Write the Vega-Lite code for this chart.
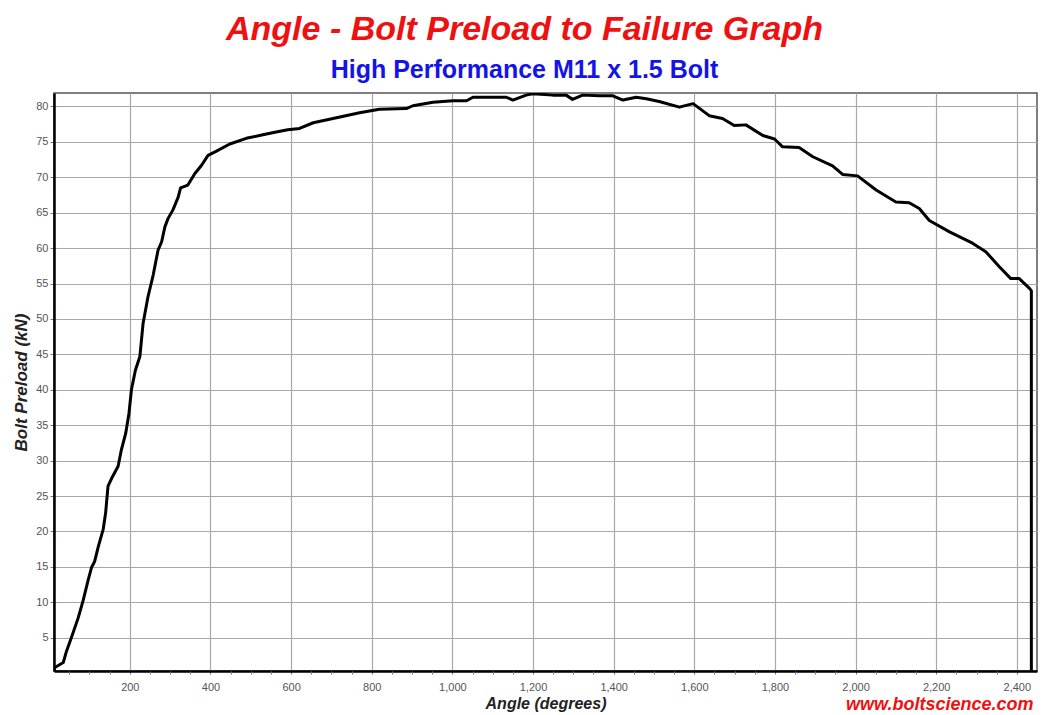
{
  "$schema": "https://vega.github.io/schema/vega-lite/v6.json",
  "width": 983,
  "height": 578,
  "autosize": {"type": "none"},
  "padding": {"left": 54, "top": 93, "right": 16, "bottom": 44},
  "background": "white",
  "title": {
    "text": "Angle - Bolt Preload to Failure Graph",
    "subtitle": "High Performance M11 x 1.5 Bolt",
    "anchor": "middle",
    "dx": -21,
    "offset": 10,
    "subtitlePadding": 11,
    "font": "Liberation Sans",
    "fontSize": 34,
    "fontStyle": "italic",
    "fontWeight": "bold",
    "color": "#ee1111",
    "subtitleFont": "Liberation Sans",
    "subtitleFontSize": 25,
    "subtitleFontWeight": "bold",
    "subtitleColor": "#1414e6"
  },
  "config": {
    "view": {"stroke": "#555555", "strokeWidth": 1.5},
    "axis": {"labelFont": "Liberation Sans", "titleFont": "Liberation Sans"}
  },
  "data": {"values": [
    {"i":1,"a":12,"p":0.4},{"i":2,"a":14,"p":0.8},{"i":3,"a":35,"p":1.5},{"i":4,"a":43,"p":3.1},
    {"i":5,"a":55,"p":5.0},{"i":6,"a":72,"p":7.8},{"i":7,"a":84,"p":10.2},{"i":8,"a":97,"p":13.2},
    {"i":9,"a":105,"p":14.9},{"i":10,"a":113,"p":15.8},{"i":11,"a":122,"p":17.9},{"i":12,"a":134,"p":20.3},
    {"i":13,"a":140,"p":22.6},{"i":14,"a":146,"p":26.4},{"i":15,"a":155,"p":27.5},{"i":16,"a":171,"p":29.2},
    {"i":17,"a":179,"p":31.5},{"i":18,"a":190,"p":33.9},{"i":19,"a":198,"p":36.7},{"i":20,"a":204,"p":40.0},
    {"i":21,"a":214,"p":42.8},{"i":22,"a":225,"p":44.7},{"i":23,"a":233,"p":49.4},{"i":24,"a":245,"p":53.1},
    {"i":25,"a":258,"p":56.2},{"i":26,"a":270,"p":59.7},{"i":27,"a":279,"p":60.9},{"i":28,"a":287,"p":63.0},
    {"i":29,"a":295,"p":64.2},{"i":30,"a":307,"p":65.4},{"i":31,"a":320,"p":67.2},{"i":32,"a":326,"p":68.5},
    {"i":33,"a":344,"p":68.9},{"i":34,"a":361,"p":70.5},{"i":35,"a":378,"p":71.7},{"i":36,"a":394,"p":73.1},
    {"i":37,"a":415,"p":73.7},{"i":38,"a":448,"p":74.7},{"i":39,"a":489,"p":75.5},{"i":40,"a":530,"p":76.0},
    {"i":41,"a":563,"p":76.4},{"i":42,"a":592,"p":76.7},{"i":43,"a":621,"p":76.9},{"i":44,"a":655,"p":77.7},
    {"i":45,"a":704,"p":78.3},{"i":46,"a":770,"p":79.1},{"i":47,"a":819,"p":79.6},{"i":48,"a":886,"p":79.7},
    {"i":49,"a":902,"p":80.1},{"i":50,"a":952,"p":80.6},{"i":51,"a":1001,"p":80.8},{"i":52,"a":1035,"p":80.8},
    {"i":53,"a":1051,"p":81.3},{"i":54,"a":1134,"p":81.3},{"i":55,"a":1150,"p":80.9},{"i":56,"a":1183,"p":81.6},
    {"i":57,"a":1199,"p":81.8},{"i":58,"a":1249,"p":81.6},{"i":59,"a":1282,"p":81.6},{"i":60,"a":1298,"p":81.0},
    {"i":61,"a":1323,"p":81.6},{"i":62,"a":1365,"p":81.5},{"i":63,"a":1398,"p":81.5},{"i":64,"a":1423,"p":80.9},
    {"i":65,"a":1456,"p":81.3},{"i":66,"a":1481,"p":81.1},{"i":67,"a":1513,"p":80.7},{"i":68,"a":1563,"p":79.9},
    {"i":69,"a":1597,"p":80.4},{"i":70,"a":1637,"p":78.7},{"i":71,"a":1670,"p":78.3},{"i":72,"a":1699,"p":77.3},
    {"i":73,"a":1728,"p":77.4},{"i":74,"a":1770,"p":75.9},{"i":75,"a":1799,"p":75.4},{"i":76,"a":1819,"p":74.3},
    {"i":77,"a":1860,"p":74.2},{"i":78,"a":1894,"p":72.9},{"i":79,"a":1943,"p":71.6},{"i":80,"a":1968,"p":70.4},
    {"i":81,"a":2005,"p":70.2},{"i":82,"a":2051,"p":68.2},{"i":83,"a":2100,"p":66.5},{"i":84,"a":2133,"p":66.4},
    {"i":85,"a":2158,"p":65.6},{"i":86,"a":2183,"p":63.9},{"i":87,"a":2233,"p":62.3},{"i":88,"a":2290,"p":60.7},
    {"i":89,"a":2323,"p":59.5},{"i":90,"a":2356,"p":57.4},{"i":91,"a":2385,"p":55.7},{"i":92,"a":2406,"p":55.7},
    {"i":93,"a":2430,"p":54.4},{"i":94,"a":2436,"p":54.0},{"i":95,"a":2436,"p":0}
  ]},
  "resolve": {"axis": {"x": "independent"}},
  "layer": [
    {
      "mark": {"type": "line", "color": "black", "strokeWidth": 3, "strokeJoin": "round", "clip": true},
      "encoding": {
        "x": {"field": "a", "type": "quantitative",
          "scale": {"domain": [12, 2450], "nice": false, "zero": false},
          "axis": {"orient": "bottom", "values": [200,400,600,800,1000,1200,1400,1600,1800,2000,2200,2400],
            "format": ",.0f", "grid": true, "gridColor": "#a8a8a8", "gridWidth": 1.2,
            "domainColor": "black", "domainWidth": 2.5, "tickSize": 3, "tickColor": "#777777",
            "labelPadding": 7, "labelFontSize": 11, "labelColor": "#555555",
            "title": "Angle (degrees)", "titleFontSize": 16, "titleFontStyle": "italic", "titleFontWeight": "bold",
            "titleColor": "#222222", "titlePadding": 3}},
        "y": {"field": "p", "type": "quantitative",
          "scale": {"domain": [0.3, 81.9], "nice": false, "zero": false},
          "axis": {"values": [5,10,15,20,25,30,35,40,45,50,55,60,65,70,75,80],
            "format": "d", "grid": true, "gridColor": "#a8a8a8", "gridWidth": 1.2,
            "domainColor": "black", "domainWidth": 2.5, "tickSize": 4, "tickColor": "#777777",
            "labelPadding": 2, "labelFontSize": 11, "labelColor": "#555555",
            "title": "Bolt Preload (kN)", "titleFontSize": 17, "titleFontStyle": "italic", "titleFontWeight": "bold",
            "titleColor": "#222222", "titlePadding": 5}},
        "order": {"field": "i"}
      }
    },
    {
      "mark": {"type": "line", "strokeOpacity": 0},
      "encoding": {
        "x": {"field": "a", "type": "quantitative",
          "scale": {"domain": [12, 2450], "nice": false, "zero": false},
          "axis": {"orient": "bottom", "values": [50,100,150,250,300,350,450,500,550,650,700,750,850,900,950,1050,1100,1150,1250,1300,1350,1450,1500,1550,1650,1700,1750,1850,1900,1950,2050,2100,2150,2250,2300,2350],
            "labels": false, "grid": false, "domain": false, "tickSize": 3, "tickColor": "#777777",
            "title": "www.boltscience.com", "titleAnchor": "end", "titleX": 979, "titleAlign": "right",
            "titleColor": "#ee1111",
            "titleFontSize": 18, "titleFontStyle": "italic", "titleFontWeight": "bold", "titlePadding": 21}},
        "y": {"field": "p", "type": "quantitative",
          "axis": {"values": [5,10,15,20,25,30,35,40,45,50,55,60,65,70,75,80],
            "format": "d", "grid": true, "gridColor": "#a8a8a8", "gridWidth": 1.2,
            "domainColor": "black", "domainWidth": 2.5, "tickSize": 4, "tickColor": "#777777",
            "labelPadding": 2, "labelFontSize": 11, "labelColor": "#555555",
            "title": "Bolt Preload (kN)", "titleFontSize": 17, "titleFontStyle": "italic", "titleFontWeight": "bold",
            "titleColor": "#222222", "titlePadding": 5}},
        "order": {"field": "i"}
      }
    }
  ]
}
